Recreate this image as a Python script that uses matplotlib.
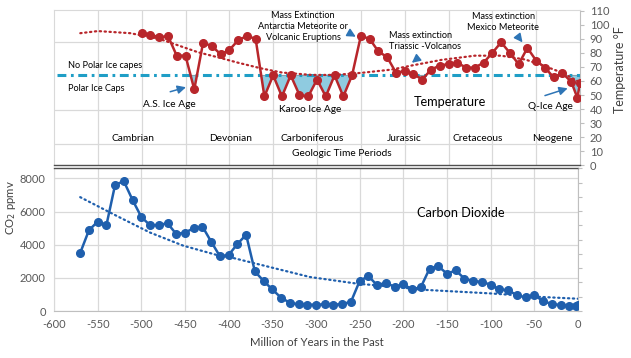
import numpy as np
import matplotlib
matplotlib.use("Agg")
import matplotlib.pyplot as plt

plt.rcParams['font.family'] = ['Lato', 'DejaVu Sans']
plt.rcParams['axes.unicode_minus'] = False

# temperature (deg F) vs million years in the past
temp_years = np.array([-500, -490, -480, -470, -460, -450, -440, -430, -420, -410,
                       -400, -390, -380, -370, -360, -350, -340, -330, -320, -310,
                       -300, -290, -280, -270, -260, -250, -240, -230, -220, -210,
                       -200, -190, -180, -170, -160, -150, -140, -130, -120, -110,
                       -100, -90, -80, -70, -60, -50, -40, -30, -20, -10, -3, 0])
temp_f = np.array([94, 93, 91, 92, 78, 78, 54, 87, 85, 79,
                   82, 89, 92, 90, 49, 64, 49, 64, 50, 49,
                   61, 49, 64, 49, 64, 92, 90, 81, 77, 66,
                   67, 65, 61, 68, 71, 72, 73, 69.5, 69.5, 73,
                   80, 87.5, 80, 72, 83.5, 74.5, 69.5, 62.5, 65.5, 59.5, 48, 58.5])

# dotted temperature trend line
trend_t_years = [-570, -550, -513, -480, -436, -414, -390, -364, -340, -306, -280,
                 -249, -215, -192, -158, -120, -90, -62, -40, -20, 0]
trend_t_f = [94, 95.5, 94, 90, 80.5, 77, 73, 69, 66, 64.3, 64.3,
             65.8, 68.1, 71, 75, 78, 78, 75.2, 70.5, 65.8, 59]

# CO2 (ppmv)
co2_years = np.array([-570, -560, -550, -540, -530, -520, -510, -500, -490, -480,
                      -470, -460, -450, -440, -430, -420, -410, -400, -390, -380,
                      -370, -360, -350, -340, -330, -320, -310, -300, -290, -280,
                      -270, -260, -250, -240, -230, -220, -210, -200, -190, -180,
                      -170, -160, -150, -140, -130, -120, -110, -100, -90, -80,
                      -70, -60, -50, -40, -30, -20, -10, -2, 0])
co2_ppmv = np.array([3500, 4870, 5390, 5170, 7620, 7820, 6690, 5670, 5170, 5190,
                     5290, 4640, 4730, 4990, 5090, 4180, 3300, 3380, 4040, 4600,
                     2390, 1810, 1300, 800, 500, 400, 380, 380, 400, 380,
                     420, 550, 1810, 2110, 1550, 1710, 1450, 1610, 1310, 1430,
                     2550, 2700, 2250, 2450, 1950, 1810, 1750, 1590, 1300, 1250,
                     955, 820, 955, 600, 420, 360, 300, 280, 380])

# dotted CO2 trend line
trend_c_years = [-570, -528, -490, -452, -414, -395, -356, -307, -253, -203, -177,
                 -100, -43, 0]
trend_c_ppmv = [6866, 5730, 4730, 3940, 3385, 3200, 2690, 2050, 1650, 1420, 1280,
                1060, 850, 740]

ice_line = 64
period_names = ['Cambrian', 'Devonian', 'Carboniferous', 'Jurassic', 'Cretaceous', 'Neogene']
period_mid = [-510, -399, -306, -200, -117, -31]

red = '#b8262b'
blue = '#1f5fad'
grid_c = '#d9d9d9'
tick_c = '#595959'

W, H = 631, 358
fig = plt.figure(figsize=(W / 100, H / 100), dpi=100)
ax_t = fig.add_axes([54 / W, 1 - 165.3 / H, 526 / W, 155.3 / H])
ax_b = fig.add_axes([54 / W, 1 - 311 / H, 524 / W, 142.6 / H])

# ---------------- top: temperature ----------------
ax_t.set_xlim(-600, 0)
ax_t.set_ylim(0, 110.5)
for xv in range(-550, 0, 50):
    ax_t.axvline(xv, color=grid_c, lw=0.9, zorder=0)
for yv in [15.5, 39.5, 87.5]:
    ax_t.axhline(yv, color=grid_c, lw=0.9, zorder=0)

ax_t.fill_between(temp_years, temp_f, ice_line, where=temp_f < ice_line,
                  interpolate=True, facecolor='#8fcbe0', edgecolor='#7d8d99',
                  lw=0.6, zorder=1)
ax_t.axhline(ice_line, xmin=0.006, color='#1f9ec6', lw=2.2,
             dashes=(2.9, 1.5, 0.9, 1.5), zorder=2)

ax_t.plot(trend_t_years, trend_t_f, color=red, lw=1.6, linestyle=(0, (0.6, 1.6)),
          dash_capstyle='round', zorder=3)
ax_t.plot(temp_years, temp_f, color=red, lw=1.8, marker='o', ms=5.5, zorder=4)

ax_t.yaxis.tick_right()
ax_t.set_yticks(range(0, 111, 10))
ax_t.set_xticks([])
ax_t.tick_params(axis='y', direction='out', length=3, color='#bfbfbf',
                 labelcolor=tick_c, labelsize=8, pad=4)
for s in ['left', 'top']:
    ax_t.spines[s].set_color(grid_c)
ax_t.spines['right'].set_color('#bfbfbf')
ax_t.spines['bottom'].set_color('#505050')
ax_t.spines['bottom'].set_linewidth(1.0)

fs = 6.6
ax_t.text(-584, 71, 'No Polar Ice capes', fontsize=fs, va='center')
ax_t.text(-584, 54.6, 'Polar Ice Caps', fontsize=fs, va='center')
ax_t.text(-499, 43.3, 'A.S. Ice Age', fontsize=7.3, va='center')
ax_t.text(-307.7, 39.7, 'Karoo Ice Age', fontsize=7.3, va='center', ha='center')
ax_t.text(-148.4, 44.7, 'Temperature', fontsize=9.2, va='center', ha='center')
ax_t.text(-33.8, 41.9, 'Q-Ice Age', fontsize=7.3, va='center', ha='center')
for name, xm in zip(period_names, period_mid):
    ax_t.text(xm, 19.2, name, fontsize=7.3, va='center', ha='center')
ax_t.text(-272, 8.5, 'Geologic Time Periods', fontsize=7.3, va='center', ha='center')
ax_t.text(-315.8, 98.7, 'Mass Extinction\nAntarctia Meteorite or\nVolcanic Eruptions',
          fontsize=fs, va='center', ha='center', linespacing=1.25)
ax_t.text(-218.3, 88.4, 'Mass extinction\nTriassic -Volcanos', fontsize=fs,
          va='center', ha='left', linespacing=1.25)
ax_t.text(-87.7, 102.2, 'Mass extinction\nMexico Meteorite', fontsize=fs,
          va='center', ha='center', linespacing=1.25)

arrow = dict(arrowstyle='-|>,head_length=0.5,head_width=0.25', color='#2e75b6', lw=1.1)
for tail, head in [((-470.5, 51.8), (-446.4, 56.1)),
                   ((-43, 49), (-11, 55.4)),
                   ((-264, 94.4), (-253, 90.5)),
                   ((-182.8, 77.4), (-194.3, 71.7)),
                   ((-71.6, 92.3), (-63.6, 85.9))]:
    ax_t.annotate('', xy=head, xytext=tail, arrowprops=arrow, zorder=5)

# ---------------- bottom: CO2 ----------------
ax_b.set_xlim(-600, 0)
ax_b.set_ylim(0, 8600)
ax_b.set_xticks(range(-600, 1, 50))
ax_b.set_yticks(range(0, 8001, 2000))
ax_b.grid(True, color=grid_c, lw=0.9)
ax_b.set_axisbelow(True)

ax_b.plot(trend_c_years, trend_c_ppmv, color=blue, lw=1.6,
          linestyle=(0, (0.6, 1.6)), dash_capstyle='round', zorder=3)
ax_b.plot(co2_years, co2_ppmv, color=blue, lw=1.8, marker='o', ms=5.5, zorder=4)

ax_b.tick_params(length=0, labelcolor=tick_c, labelsize=8, pad=6)
ax_b.spines['top'].set_color('#505050')
ax_b.spines['top'].set_linewidth(1.0)
ax_b.spines['left'].set_color(grid_c)
ax_b.spines['bottom'].set_color('#bfbfbf')
ax_b.spines['right'].set_color('#bfbfbf')
ax_b.text(-134.7, 5910, 'Carbon Dioxide', fontsize=9.2, va='center', ha='center')

ax_r = ax_b.twinx()
ax_r.set_ylim(0, 10)
ax_r.set_yticks(range(0, 11))
ax_r.set_yticklabels([])
ax_r.tick_params(direction='out', length=3, color='#bfbfbf')
for s in ax_r.spines.values():
    s.set_visible(False)

fig.text(317 / W, 1 - 343 / H, 'Million of Years in the Past', fontsize=8.2,
         color='#404040', ha='center', va='center')
fig.text(11 / W, 1 - 208 / H, 'CO$_2$ ppmv', fontsize=8.2, color='#404040',
         rotation=90, ha='center', va='center')
fig.text(620 / W, 1 - 70 / H, 'Temperature °F', fontsize=9, color='#404040',
         rotation=90, ha='center', va='center')

fig.savefig('out.png', dpi=100)
